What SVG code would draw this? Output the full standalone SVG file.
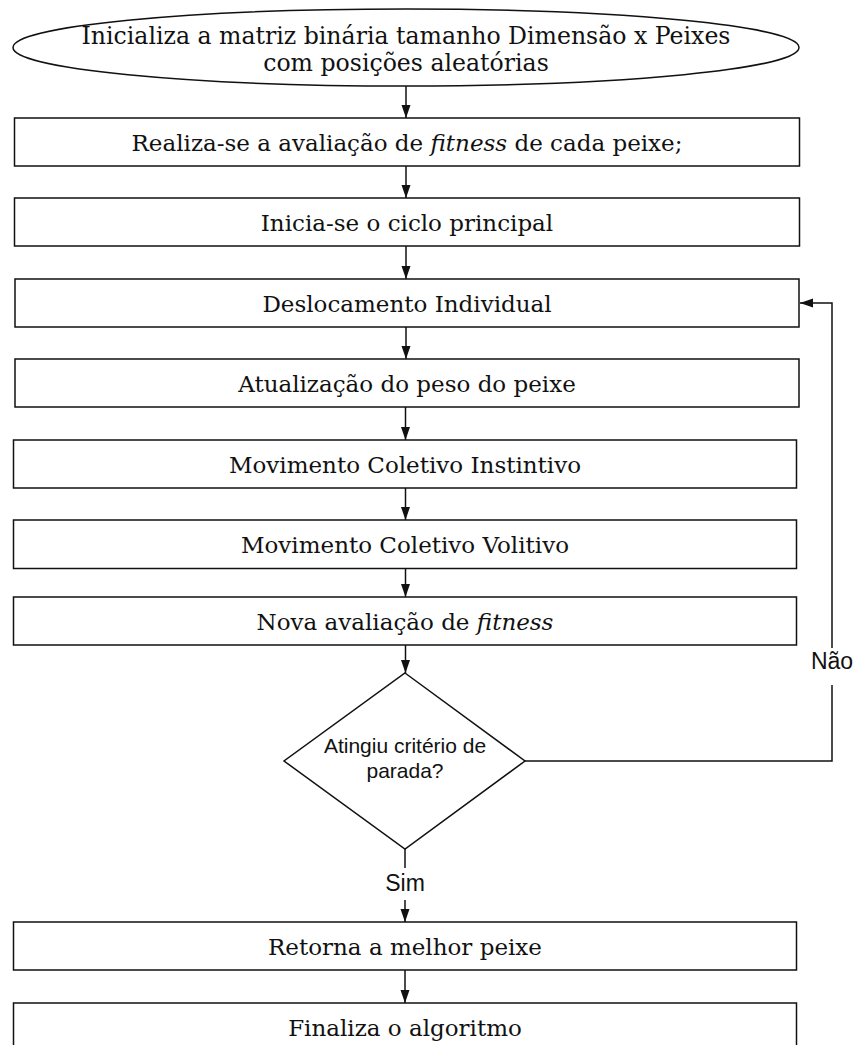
<svg xmlns="http://www.w3.org/2000/svg" width="856" height="1045" viewBox="0 0 856 1045">
<style>
.shape{fill:#fff;stroke:#111;stroke-width:1.5}
.t{font-family:"DejaVu Serif","Liberation Serif",serif;font-size:23px;fill:#111;text-anchor:middle}
.e{font-size:23.6px}
.s{font-family:"Liberation Sans",Arial,sans-serif;fill:#111;text-anchor:middle}
.c{fill:none;stroke:#111;stroke-width:1.5}
</style>
<defs>
<marker id="ah" markerWidth="13" markerHeight="10" refX="13" refY="5" orient="auto" markerUnits="userSpaceOnUse" viewBox="0 0 13 10">
<path d="M0,0.5 L13,5 L0,9.5 Z" fill="#111"/>
</marker>
</defs>
<rect width="856" height="1045" fill="#fff"/>
<g id="connectors">
<line class="c" x1="406" y1="86" x2="406" y2="118" marker-end="url(#ah)"/>
<line class="c" x1="406" y1="166" x2="406" y2="198" marker-end="url(#ah)"/>
<line class="c" x1="406" y1="246" x2="406" y2="279" marker-end="url(#ah)"/>
<line class="c" x1="406" y1="327" x2="406" y2="359" marker-end="url(#ah)"/>
<line class="c" x1="405.5" y1="407" x2="405.5" y2="440" marker-end="url(#ah)"/>
<line class="c" x1="405.5" y1="488" x2="405.5" y2="520" marker-end="url(#ah)"/>
<line class="c" x1="405.5" y1="568" x2="405.5" y2="597" marker-end="url(#ah)"/>
<line class="c" x1="405.5" y1="645" x2="405.5" y2="673" marker-end="url(#ah)"/>
<line class="c" x1="405" y1="849" x2="405" y2="868"/>
<line class="c" x1="405" y1="900" x2="405" y2="922" marker-end="url(#ah)"/>
<line class="c" x1="405" y1="970" x2="405" y2="1003" marker-end="url(#ah)"/>
<polyline class="c" points="525,761 832,761 832,685"/>
<polyline class="c" points="832,648 832,303 800,303" marker-end="url(#ah)"/>
<text class="s" x="832" y="669" font-size="23">Não</text>
<text class="s" x="405" y="891" font-size="23">Sim</text>
</g>
<g id="start">
<ellipse class="shape" cx="406" cy="47.5" rx="393" ry="38.5"/>
<text class="t e" x="406" y="44">Inicializa a matriz binária tamanho Dimensão x Peixes</text>
<text class="t e" x="406" y="71">com posições aleatórias</text>
</g>
<g id="n1">
<rect class="shape" x="14.5" y="118" width="785" height="48"/>
<text class="t" x="407" y="151">Realiza-se a avaliação de <tspan font-style="italic">fitness</tspan> de cada peixe;</text>
</g>
<g id="n2">
<rect class="shape" x="14.5" y="198" width="785" height="48"/>
<text class="t" x="407" y="231">Inicia-se o ciclo principal</text>
</g>
<g id="n3">
<rect class="shape" x="15" y="279" width="784" height="48"/>
<text class="t" x="407" y="312">Deslocamento Individual</text>
</g>
<g id="n4">
<rect class="shape" x="15" y="359" width="784" height="48"/>
<text class="t" x="407" y="392">Atualização do peso do peixe</text>
</g>
<g id="n5">
<rect class="shape" x="13.5" y="440" width="783" height="48"/>
<text class="t" x="405" y="473">Movimento Coletivo Instintivo</text>
</g>
<g id="n6">
<rect class="shape" x="13.5" y="520" width="783" height="48.5"/>
<text class="t" x="405" y="553">Movimento Coletivo Volitivo</text>
</g>
<g id="n7">
<rect class="shape" x="13.5" y="597" width="783" height="48"/>
<text class="t" x="405" y="630">Nova avaliação de <tspan font-style="italic">fitness</tspan></text>
</g>
<g id="decision">
<polygon class="shape" points="405,673 525,761 405,849 284,761"/>
<text class="s" x="405" y="753" font-size="21">Atingiu critério de</text>
<text class="s" x="405" y="778" font-size="21">parada?</text>
</g>
<g id="n8">
<rect class="shape" x="13.5" y="922" width="783" height="48"/>
<text class="t" x="405" y="955">Retorna a melhor peixe</text>
</g>
<g id="n9">
<rect class="shape" x="13.5" y="1003" width="783" height="48"/>
<text class="t" x="405" y="1036">Finaliza o algoritmo</text>
</g>
</svg>
